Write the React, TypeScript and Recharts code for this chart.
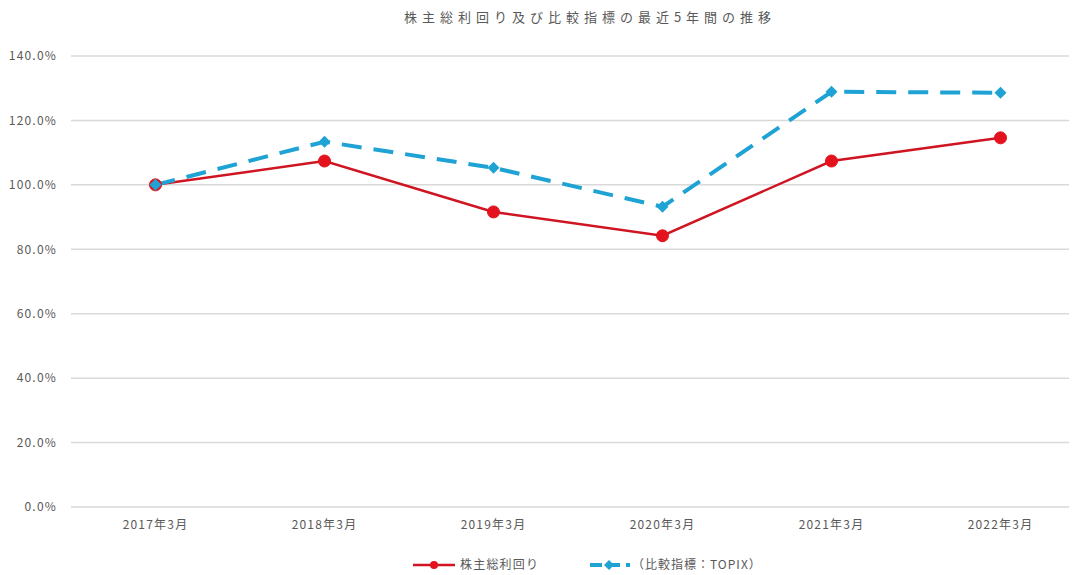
import {
  LineChart,
  Line,
  XAxis,
  YAxis,
  CartesianGrid,
} from "recharts";

const categories = ["2017年3月", "2018年3月", "2019年3月", "2020年3月", "2021年3月", "2022年3月"];
const tsrValues = [100.0, 107.4, 91.6, 84.2, 107.4, 114.6];
const topixValues = [100.0, 113.4, 105.3, 93.2, 128.9, 128.6];
const yTicks = [0, 20, 40, 60, 80, 100, 120, 140];

const TITLE = "株主総利回り及び比較指標の最近5年間の推移";
const TSR_NAME = "株主総利回り";
const TOPIX_NAME = "（比較指標：TOPIX）";

const RED = "#e3121c";
const RED_LINE = "#cf1422";
const BLUE = "#1fa3d4";
const TEXT = "#595959";
const FONT = "'Noto Sans CJK JP', 'Noto Sans', sans-serif";

const chartData = categories.map((c, i) => ({
  name: c,
  tsr: tsrValues[i],
  topix: topixValues[i],
}));

// diamond marker for the TOPIX series
const Diamond = (props: any) => {
  const { cx, cy } = props;
  if (cx == null || cy == null) return null;
  const s = 6;
  return (
    <path
      d={`M${cx},${cy - s} L${cx + s},${cy} L${cx},${cy + s} L${cx - s},${cy} Z`}
      fill={BLUE}
    />
  );
};

const tickStyle = { fill: TEXT, fontSize: 12, fontFamily: FONT, letterSpacing: 1.2 };

export default function App() {
  return (
    <div
      style={{
        position: "relative",
        width: 1077,
        height: 575,
        marginLeft: -8,
        marginTop: -8,
        overflow: "hidden",
        background: "#fff",
        fontFamily: FONT,
      }}
    >
      <div
        style={{
          position: "absolute",
          top: 7,
          left: 0,
          width: 1180,
          textAlign: "center",
          fontSize: 13,
          color: TEXT,
          letterSpacing: 5,
        }}
      >
        {TITLE}
      </div>

      <LineChart
        width={1085}
        height={575}
        data={chartData}
        margin={{ top: 56, right: 0, left: 0, bottom: 38 }}
      >
        <CartesianGrid vertical={false} stroke="#d9d9d9" strokeWidth={1.5} />
        <XAxis
          dataKey="name"
          axisLine={false}
          tickLine={false}
          tickMargin={7}
          height={30}
          padding={{ left: 84.5, right: 84.5 }}
          tick={tickStyle}
        />
        <YAxis
          width={71}
          domain={[0, 140]}
          ticks={yTicks}
          axisLine={false}
          tickLine={false}
          tickMargin={8}
          tickFormatter={(v) => `${v.toFixed(1)}%`}
          tick={tickStyle}
        />
        <Line
          type="linear"
          dataKey="tsr"
          name={TSR_NAME}
          stroke={RED_LINE}
          strokeWidth={2.5}
          dot={{ r: 6, fill: RED, stroke: RED, strokeWidth: 1 }}
          isAnimationActive={false}
        />
        <Line
          type="linear"
          dataKey="topix"
          name={TOPIX_NAME}
          stroke={BLUE}
          strokeWidth={4}
          strokeDasharray="20 12"
          dot={<Diamond />}
          isAnimationActive={false}
        />
      </LineChart>

      {/* legend */}
      <svg
        style={{ position: "absolute", left: 0, top: 552 }}
        width={1077}
        height={24}
      >
        <line x1={413} y1={13} x2={455} y2={13} stroke={RED_LINE} strokeWidth={2.5} />
        <circle cx={434} cy={13} r={4} fill={RED} />
        <text x={460} y={17} fontSize={12} fill={TEXT} fontFamily={FONT} letterSpacing={1.2}>
          {TSR_NAME}
        </text>
        <line x1={590} y1={13} x2={630} y2={13} stroke={BLUE} strokeWidth={4} strokeDasharray="12 6" />
        <path d="M609,8 L614,13 L609,18 L604,13 Z" fill={BLUE} />
        <text x={632} y={17} fontSize={12} fill={TEXT} fontFamily={FONT} letterSpacing={1}>
          {TOPIX_NAME}
        </text>
      </svg>
    </div>
  );
}
